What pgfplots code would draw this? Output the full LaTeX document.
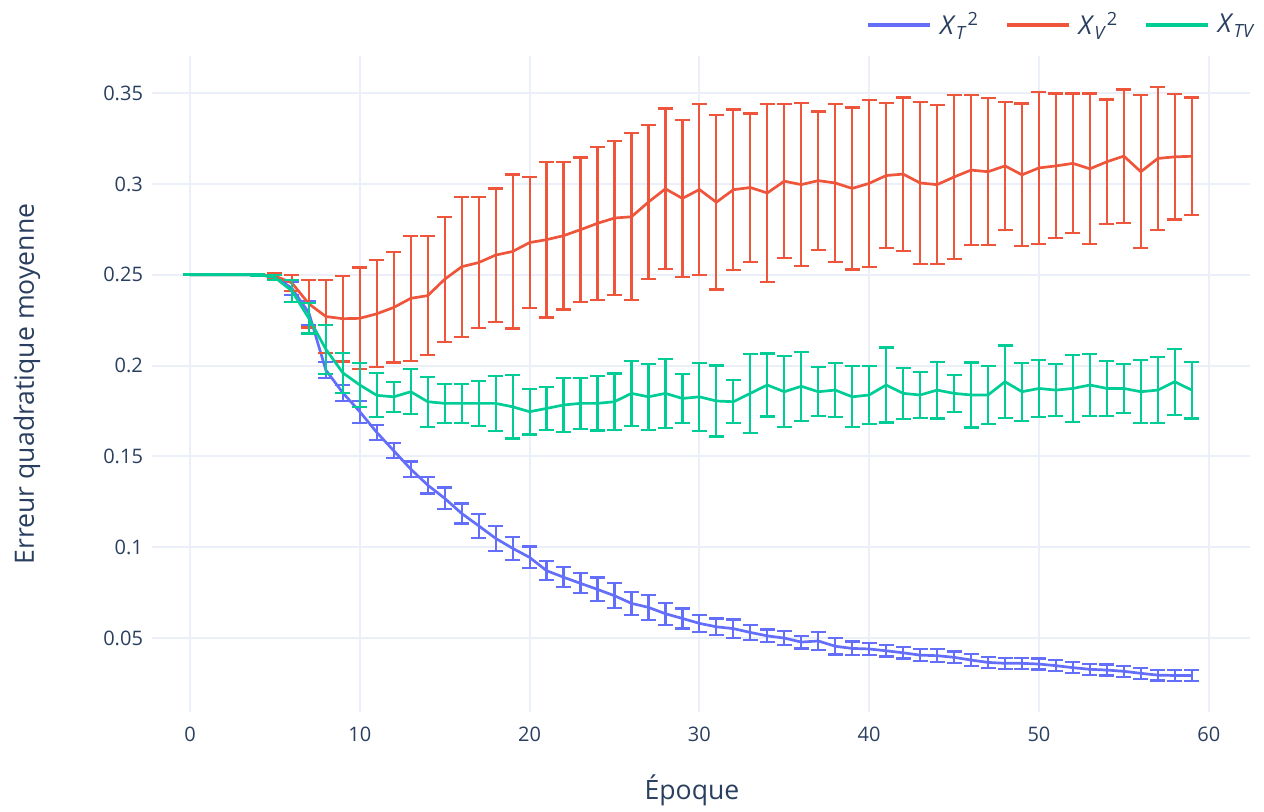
\documentclass[border=0pt]{standalone}
\usepackage{fontspec}
\setmainfont{Open Sans}
\usepackage{pgfplots}
\usepackage{pgfplotstable}
\pgfplotsset{compat=1.18}
\definecolor{pblue}{HTML}{636EFA}
\definecolor{pred}{HTML}{EF553B}
\definecolor{pgreen}{HTML}{00CC96}
\definecolor{ptext}{HTML}{2A3F5F}
\definecolor{pgrid}{HTML}{EBF0F8}

\pgfplotstableread{
x y e
0 0.2500 0.0002
1 0.2500 0.0002
2 0.2500 0.0002
3 0.2500 0.0002
4 0.2499 0.0003
5 0.2490 0.0010
6 0.2425 0.0035
7 0.2290 0.0065
8 0.1975 0.0045
9 0.1850 0.0045
10 0.1746 0.0060
11 0.1632 0.0042
12 0.1531 0.0042
13 0.1430 0.0042
14 0.1342 0.0046
15 0.1269 0.0060
16 0.1186 0.0055
17 0.1118 0.0065
18 0.1049 0.0070
19 0.0994 0.0064
20 0.0944 0.0060
21 0.0871 0.0052
22 0.0835 0.0055
23 0.0801 0.0055
24 0.0768 0.0065
25 0.0733 0.0068
26 0.0691 0.0064
27 0.0669 0.0068
28 0.0634 0.0060
29 0.0608 0.0055
30 0.0581 0.0048
31 0.0562 0.0046
32 0.0552 0.0050
33 0.0531 0.0042
34 0.0512 0.0035
35 0.0500 0.0040
36 0.0478 0.0035
37 0.0484 0.0050
38 0.0455 0.0045
39 0.0443 0.0038
40 0.0440 0.0035
41 0.0430 0.0032
42 0.0419 0.0032
43 0.0406 0.0032
44 0.0403 0.0035
45 0.0394 0.0032
46 0.0379 0.0032
47 0.0366 0.0030
48 0.0361 0.0030
49 0.0361 0.0030
50 0.0357 0.0030
51 0.0348 0.0030
52 0.0337 0.0030
53 0.0328 0.0030
54 0.0324 0.0030
55 0.0317 0.0030
56 0.0306 0.0030
57 0.0296 0.0030
58 0.0294 0.0030
59 0.0294 0.0030
}\tableT

\pgfplotstableread{
x y e
0 0.2500 0.0003
1 0.2500 0.0003
2 0.2500 0.0003
3 0.2500 0.0003
4 0.2500 0.0004
5 0.2493 0.0015
6 0.2455 0.0045
7 0.2340 0.0130
8 0.2270 0.0200
9 0.2258 0.0236
10 0.2260 0.0280
11 0.2285 0.0294
12 0.2320 0.0303
13 0.2370 0.0344
14 0.2385 0.0328
15 0.2475 0.0344
16 0.2544 0.0385
17 0.2567 0.0362
18 0.2608 0.0367
19 0.2628 0.0424
20 0.2677 0.0362
21 0.2693 0.0428
22 0.2715 0.0406
23 0.2748 0.0397
24 0.2783 0.0422
25 0.2812 0.0424
26 0.2819 0.0459
27 0.2900 0.0424
28 0.2973 0.0442
29 0.2920 0.0431
30 0.2969 0.0471
31 0.2899 0.0480
32 0.2968 0.0442
33 0.2980 0.0408
34 0.2950 0.0489
35 0.3015 0.0425
36 0.2996 0.0448
37 0.3018 0.0381
38 0.3005 0.0434
39 0.2975 0.0446
40 0.3003 0.0459
41 0.3046 0.0401
42 0.3054 0.0422
43 0.3005 0.0447
44 0.2996 0.0438
45 0.3038 0.0451
46 0.3076 0.0413
47 0.3067 0.0404
48 0.3099 0.0353
49 0.3050 0.0393
50 0.3088 0.0419
51 0.3099 0.0399
52 0.3113 0.0385
53 0.3083 0.0415
54 0.3122 0.0343
55 0.3153 0.0367
56 0.3067 0.0422
57 0.3140 0.0395
58 0.3149 0.0345
59 0.3152 0.0324
}\tableV

\pgfplotstableread{
x y e
0 0.2500 0.0003
1 0.2500 0.0003
2 0.2500 0.0003
3 0.2500 0.0003
4 0.2500 0.0004
5 0.2485 0.0015
6 0.2411 0.0060
7 0.2260 0.0083
8 0.2090 0.0135
9 0.1960 0.0110
10 0.1893 0.0119
11 0.1836 0.0121
12 0.1828 0.0083
13 0.1856 0.0124
14 0.1801 0.0138
15 0.1792 0.0106
16 0.1792 0.0106
17 0.1792 0.0125
18 0.1792 0.0152
19 0.1773 0.0175
20 0.1746 0.0126
21 0.1764 0.0120
22 0.1783 0.0150
23 0.1792 0.0140
24 0.1792 0.0149
25 0.1801 0.0155
26 0.1847 0.0178
27 0.1828 0.0181
28 0.1847 0.0189
29 0.1819 0.0133
30 0.1828 0.0186
31 0.1805 0.0195
32 0.1801 0.0118
33 0.1847 0.0216
34 0.1893 0.0173
35 0.1856 0.0196
36 0.1886 0.0189
37 0.1856 0.0135
38 0.1865 0.0150
39 0.1828 0.0168
40 0.1838 0.0158
41 0.1893 0.0206
42 0.1847 0.0141
43 0.1838 0.0127
44 0.1865 0.0156
45 0.1847 0.0101
46 0.1838 0.0179
47 0.1838 0.0159
48 0.1911 0.0199
49 0.1856 0.0159
50 0.1874 0.0158
51 0.1865 0.0144
52 0.1874 0.0184
53 0.1893 0.0170
54 0.1874 0.0150
55 0.1874 0.0135
56 0.1856 0.0174
57 0.1865 0.0181
58 0.1911 0.0182
59 0.1865 0.0156
}\tableTV

\begin{document}
\begin{tikzpicture}
\useasboundingbox (-76pt,-49.5pt) rectangle (556pt,356pt);
\begin{axis}[
  at={(0pt,0pt)}, anchor=south west,
  scale only axis, width=549pt, height=328pt,
  xmin=-2.24, xmax=62.43, ymin=0.0093, ymax=0.3704,
  axis line style={draw=none},
  major tick length=0pt,
  xtick={0,10,20,30,40,50,60},
  ytick={0.05,0.1,0.15,0.2,0.25,0.3,0.35},
  yticklabels={0.05,0.1,0.15,0.2,0.25,0.3,0.35},
  grid=major,
  major grid style={pgrid, line width=1pt},
  tick label style={font=\fontsize{10}{12}\selectfont, text=ptext},
  /pgf/number format/assume math mode=true,
  xticklabel style={yshift=-4pt},
  yticklabel style={xshift=-1pt},
  xlabel={Époque},
  ylabel={Erreur quadratique moyenne},
  label style={font=\fontsize{13.3}{16}\selectfont, text=ptext},
  xlabel style={at={(axis description cs:0.4918,0)}, anchor=center, yshift=-39pt},
  ylabel style={at={(axis description cs:-0.1138,0.5)}, anchor=center},
  legend columns=3,
  legend style={draw=none, fill=none, at={(axis description cs:1.0144,1.047)}, anchor=east,
    font=\fontsize{13}{15}\selectfont, text=ptext,
    /tikz/every odd column/.append style={column sep=2pt},
    /tikz/every even column/.append style={column sep=11pt}},
  legend image code/.code={\draw[#1, line width=1.8pt] (0pt,0pt) -- (31pt,0pt);},
  error bars/y dir=both,
  error bars/y explicit,
]
\addplot[pblue, line width=1.35pt, line join=round, no marks,
  error bars/error bar style={pblue, line width=1.1pt},
  error bars/error mark options={pblue, line width=1.1pt, mark size=3.75pt, rotate=90}]
  table[x=x, y=y, y error=e] {\tableT};
\addlegendentry{\textit{X}\textsubscript{\textit{T}}\textsuperscript{2}}
\addplot[pred, line width=1.35pt, line join=round, no marks,
  error bars/error bar style={pred, line width=1.1pt},
  error bars/error mark options={pred, line width=1.1pt, mark size=3.75pt, rotate=90}]
  table[x=x, y=y, y error=e] {\tableV};
\addlegendentry{\textit{X}\textsubscript{\textit{V}}\textsuperscript{2}}
\addplot[pgreen, line width=1.35pt, line join=round, no marks,
  error bars/error bar style={pgreen, line width=1.1pt},
  error bars/error mark options={pgreen, line width=1.1pt, mark size=3.75pt, rotate=90}]
  table[x=x, y=y, y error=e] {\tableTV};
\addlegendentry{\textit{X}\textsubscript{\textit{TV}}}
\end{axis}
\end{tikzpicture}
\end{document}
